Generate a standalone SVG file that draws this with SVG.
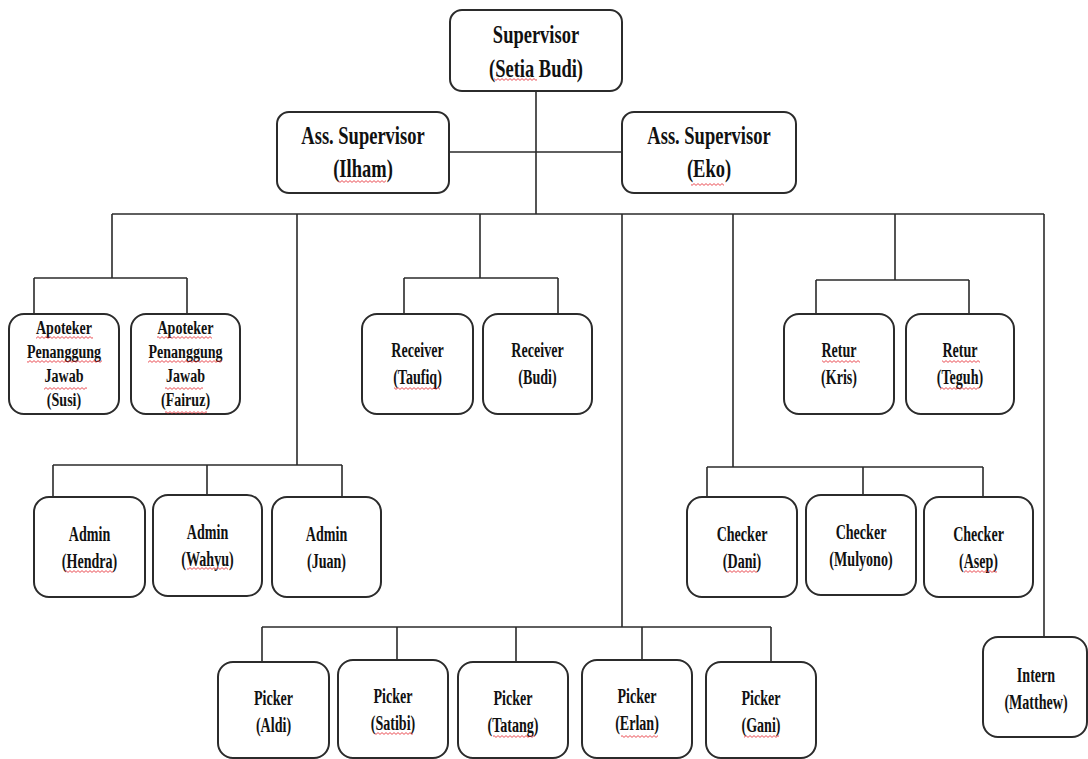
<svg xmlns="http://www.w3.org/2000/svg" width="1088" height="759" viewBox="0 0 1088 759">
<style>
.box{fill:#fff;stroke:#2b2b2b;stroke-width:2}
.ln{fill:none;stroke:#2b2b2b;stroke-width:1.6}
text{font-family:"Liberation Serif","Times New Roman",serif;font-weight:bold;fill:#111;text-anchor:middle}
.t1{font-size:25px}
.t2{font-size:21px}
.t3{font-size:19.5px}
.sq{fill:url(#wave)}
</style>
<defs>
<pattern id="wave" width="4" height="3" patternUnits="userSpaceOnUse">
<path d="M0 2.4 L2 0.6 L4 2.4" fill="none" stroke="#e5222a" stroke-width="0.8"/>
</pattern>
</defs>
<rect width="1088" height="759" fill="#fff"/>
<g id="connectors">
<path class="ln" d="M536 91V214M449 152H622M112 214H1044"/>
<path class="ln" d="M112 214V278M34 278H187M34 278V314M187 278V314"/>
<path class="ln" d="M297 214V465M53 465H342M53 465V497M207 465V495M342 465V497"/>
<path class="ln" d="M480 214V278M404 278H558M404 278V314M558 278V314"/>
<path class="ln" d="M622 214V627M262 627H771M262 627V662M397 627V660M516 627V662M642 627V660M771 627V662"/>
<path class="ln" d="M733 214V467M707 467H983M707 467V497M863 467V495M983 467V497"/>
<path class="ln" d="M895 214V280M816 280H969M816 280V314M969 280V314"/>
<path class="ln" d="M1044 214V637"/>
</g>
<g id="n-supervisor"><rect class="box" x="450" y="10" width="172" height="81" rx="12"/>
<text class="t1" transform="translate(536 0) scale(0.74 1)"><tspan x="0" y="43">Supervisor</tspan><tspan x="0" y="77">(Setia Budi)</tspan></text></g>
<g id="n-ilham"><rect class="box" x="277" y="112" width="172" height="81" rx="12"/>
<text class="t1" transform="translate(363 0) scale(0.74 1)"><tspan x="0" y="144">Ass. Supervisor</tspan><tspan x="0" y="177">(Ilham)</tspan></text></g>
<g id="n-eko"><rect class="box" x="622" y="112" width="174" height="81" rx="12"/>
<text class="t1" transform="translate(709 0) scale(0.74 1)"><tspan x="0" y="144">Ass. Supervisor</tspan><tspan x="0" y="177">(Eko)</tspan></text></g>
<g id="n-susi"><rect class="box" x="9" y="314" width="110" height="100" rx="15"/>
<text class="t3" transform="translate(64 0) scale(0.72 1)"><tspan x="0" y="334">Apoteker</tspan><tspan x="0" y="358">Penanggung</tspan><tspan x="0" y="382">Jawab</tspan><tspan x="0" y="406">(Susi)</tspan></text></g>
<g id="n-fairuz"><rect class="box" x="131" y="314" width="109" height="100" rx="15"/>
<text class="t3" transform="translate(185.5 0) scale(0.72 1)"><tspan x="0" y="334">Apoteker</tspan><tspan x="0" y="358">Penanggung</tspan><tspan x="0" y="382">Jawab</tspan><tspan x="0" y="406">(Fairuz)</tspan></text></g>
<g id="n-taufiq"><rect class="box" x="362" y="314" width="111" height="100" rx="15"/>
<text class="t2" transform="translate(417.5 0) scale(0.67 1)"><tspan x="0" y="357">Receiver</tspan><tspan x="0" y="384">(Taufiq)</tspan></text></g>
<g id="n-budi"><rect class="box" x="483" y="314" width="109" height="100" rx="15"/>
<text class="t2" transform="translate(537.5 0) scale(0.67 1)"><tspan x="0" y="357">Receiver</tspan><tspan x="0" y="384">(Budi)</tspan></text></g>
<g id="n-kris"><rect class="box" x="784" y="314" width="110" height="100" rx="15"/>
<text class="t2" transform="translate(839 0) scale(0.67 1)"><tspan x="0" y="357">Retur</tspan><tspan x="0" y="384">(Kris)</tspan></text></g>
<g id="n-teguh"><rect class="box" x="906" y="314" width="108" height="100" rx="15"/>
<text class="t2" transform="translate(960 0) scale(0.67 1)"><tspan x="0" y="357">Retur</tspan><tspan x="0" y="384">(Teguh)</tspan></text></g>
<g id="n-hendra"><rect class="box" x="34" y="497" width="111" height="100" rx="15"/>
<text class="t2" transform="translate(89.5 0) scale(0.67 1)"><tspan x="0" y="541">Admin</tspan><tspan x="0" y="568">(Hendra)</tspan></text></g>
<g id="n-wahyu"><rect class="box" x="153" y="495" width="109" height="101" rx="15"/>
<text class="t2" transform="translate(207.5 0) scale(0.67 1)"><tspan x="0" y="539">Admin</tspan><tspan x="0" y="566">(Wahyu)</tspan></text></g>
<g id="n-juan"><rect class="box" x="272" y="497" width="109" height="100" rx="15"/>
<text class="t2" transform="translate(326.5 0) scale(0.67 1)"><tspan x="0" y="541">Admin</tspan><tspan x="0" y="568">(Juan)</tspan></text></g>
<g id="n-dani"><rect class="box" x="687" y="497" width="110" height="100" rx="15"/>
<text class="t2" transform="translate(742 0) scale(0.67 1)"><tspan x="0" y="541">Checker</tspan><tspan x="0" y="568">(Dani)</tspan></text></g>
<g id="n-mulyono"><rect class="box" x="806" y="495" width="110" height="100" rx="15"/>
<text class="t2" transform="translate(861 0) scale(0.67 1)"><tspan x="0" y="539">Checker</tspan><tspan x="0" y="566">(Mulyono)</tspan></text></g>
<g id="n-asep"><rect class="box" x="924" y="497" width="109" height="100" rx="15"/>
<text class="t2" transform="translate(978.5 0) scale(0.67 1)"><tspan x="0" y="541">Checker</tspan><tspan x="0" y="568">(Asep)</tspan></text></g>
<g id="n-aldi"><rect class="box" x="218" y="662" width="111" height="96" rx="15"/>
<text class="t2" transform="translate(273.5 0) scale(0.67 1)"><tspan x="0" y="705">Picker</tspan><tspan x="0" y="732">(Aldi)</tspan></text></g>
<g id="n-satibi"><rect class="box" x="338" y="660" width="110" height="98" rx="15"/>
<text class="t2" transform="translate(393 0) scale(0.67 1)"><tspan x="0" y="703">Picker</tspan><tspan x="0" y="730">(Satibi)</tspan></text></g>
<g id="n-tatang"><rect class="box" x="458" y="662" width="110" height="96" rx="15"/>
<text class="t2" transform="translate(513 0) scale(0.67 1)"><tspan x="0" y="705">Picker</tspan><tspan x="0" y="732">(Tatang)</tspan></text></g>
<g id="n-erlan"><rect class="box" x="582" y="660" width="110" height="98" rx="15"/>
<text class="t2" transform="translate(637 0) scale(0.67 1)"><tspan x="0" y="703">Picker</tspan><tspan x="0" y="730">(Erlan)</tspan></text></g>
<g id="n-gani"><rect class="box" x="706" y="662" width="110" height="96" rx="15"/>
<text class="t2" transform="translate(761 0) scale(0.67 1)"><tspan x="0" y="705">Picker</tspan><tspan x="0" y="732">(Gani)</tspan></text></g>
<g id="n-intern"><rect class="box" x="983" y="637" width="104" height="100" rx="15"/>
<text class="t2" transform="translate(1036 0) scale(0.67 1)"><tspan x="0" y="682">Intern</tspan><tspan x="0" y="709">(Matthew)</tspan></text></g>
<g id="spellcheck-marks">
<rect class="sq" x="494" y="78" width="43" height="3"/>
<rect class="sq" x="338" y="180" width="48" height="3"/>
<rect class="sq" x="691" y="183" width="33" height="3"/>
<rect class="sq" x="36" y="336" width="57" height="3"/>
<rect class="sq" x="27" y="360" width="75" height="3"/>
<rect class="sq" x="44" y="387" width="43" height="3"/>
<rect class="sq" x="157" y="336" width="55" height="3"/>
<rect class="sq" x="148" y="360" width="74" height="3"/>
<rect class="sq" x="165" y="387" width="38" height="3"/>
<rect class="sq" x="165" y="411" width="42" height="3"/>
<rect class="sq" x="394" y="387" width="46" height="3"/>
<rect class="sq" x="822" y="360" width="38" height="3"/>
<rect class="sq" x="942" y="360" width="38" height="3"/>
<rect class="sq" x="940" y="387" width="39" height="3"/>
<rect class="sq" x="65" y="570" width="48" height="3"/>
<rect class="sq" x="187" y="567" width="41" height="3"/>
<rect class="sq" x="727" y="570" width="30" height="3"/>
<rect class="sq" x="964" y="570" width="33" height="3"/>
<rect class="sq" x="375" y="732" width="38" height="3"/>
<rect class="sq" x="493" y="735" width="42" height="3"/>
<rect class="sq" x="621" y="735" width="37" height="3"/>
<rect class="sq" x="744" y="735" width="35" height="3"/>
</g>
</svg>
